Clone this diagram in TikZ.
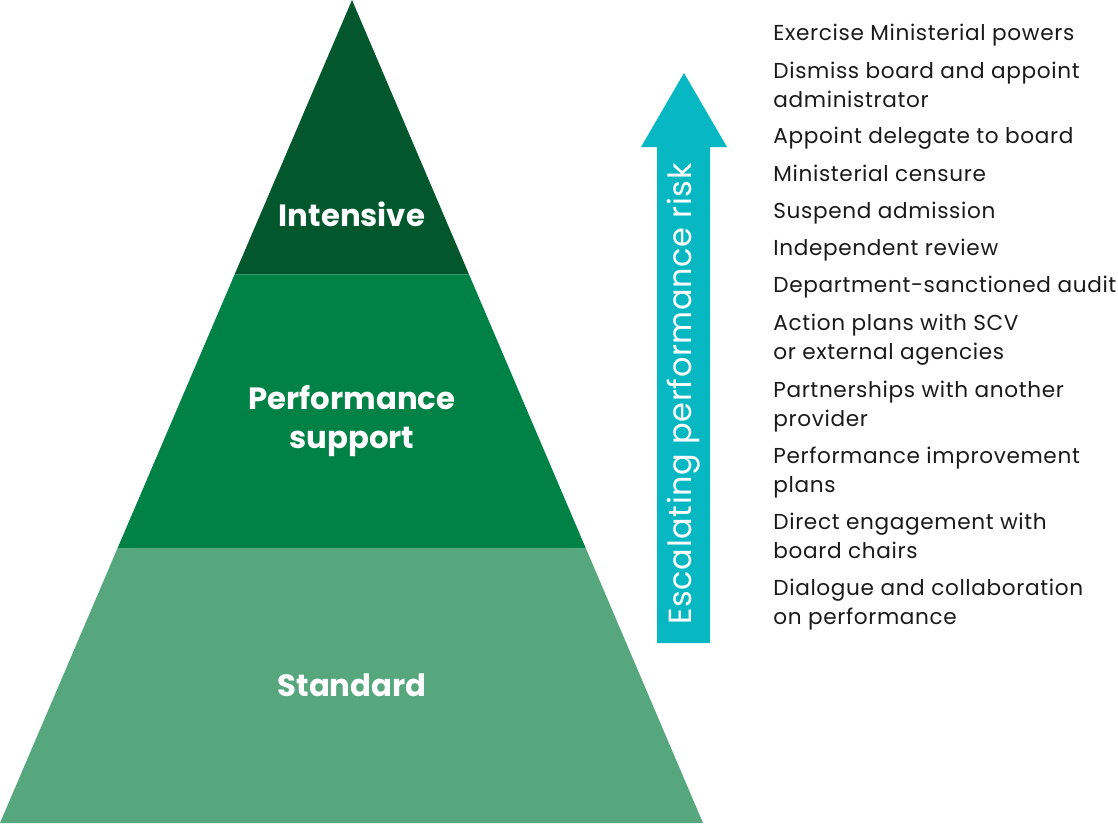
\documentclass[tikz,border=0pt]{standalone}
\usepackage{fontspec}
\setmainfont{Poppins}
\usepackage{xcolor}
\usetikzlibrary{calc}

\definecolor{intensivegreen}{RGB}{2,88,44}
\definecolor{supportgreen}{RGB}{0,130,70}
\definecolor{standardgreen}{RGB}{86,166,126}
\definecolor{riskteal}{RGB}{7,184,194}
\definecolor{actiongrey}{RGB}{26,26,26}

\begin{document}
\begin{tikzpicture}[x=0.02cm,y=-0.02cm,
	tier/.style={text=white,align=center,inner sep=0pt,font=\fontsize{17.5}{22}\selectfont\bfseries},
	action/.style={anchor=north west,inner sep=0pt,align=left,text=actiongrey,
		font=\fontsize{12.3}{16.4}\selectfont\addfontfeature{LetterSpace=3}}]
	\useasboundingbox (0,0) rectangle (1118,825);
	%
	% pyramid
	\coordinate (T) at (352,0);
	\coordinate (L) at (0,823);
	\coordinate (R) at (703,823);
	\coordinate (L1) at ($(T)!1/3!(L)$);
	\coordinate (R1) at ($(T)!1/3!(R)$);
	\coordinate (L2) at ($(T)!2/3!(L)$);
	\coordinate (R2) at ($(T)!2/3!(R)$);
	\fill[intensivegreen] (T) -- (L1) -- (R1) -- cycle;
	\fill[supportgreen] (L1) -- (L2) -- (R2) -- (R1) -- cycle;
	\fill[standardgreen] (L2) -- (L) -- (R) -- (R2) -- cycle;
	\node[tier] (I) at (352,214) {Intensive};
	\node[tier] (P) at (352,421) {Performance\\support};
	\node[tier] (S) at (352,685) {Standard};
	%
	% escalation arrow
	\fill[riskteal] (657,643) -- (657,147) -- (641,147) -- (684,73)
		-- (727,147) -- (710,147) -- (710,643) -- cycle;
	\node[rotate=90,text=white,inner sep=0pt,
		font=\fontsize{18.2}{20}\selectfont\addfontfeature{LetterSpace=2}] (E) at (684,394)
		{Escalating performance risk};
	%
	% actions, most severe first
	\node[action] (A1) at (773,24) {Exercise Ministerial powers};
	\node[action] (A2) at (773,62) {Dismiss board and appoint\\administrator};
	\node[action] (A3) at (773,127) {Appoint delegate to board};
	\node[action] (A4) at (773,165) {Ministerial censure};
	\node[action] (A5) at (773,202) {Suspend admission};
	\node[action] (A6) at (773,239) {Independent review};
	\node[action] (A7) at (773,276) {Department-sanctioned audit};
	\node[action] (A8) at (773,314) {Action plans with SCV\\or external agencies};
	\node[action] (A9) at (773,381) {Partnerships with another\\provider};
	\node[action] (A10) at (773,447) {Performance improvement\\plans};
	\node[action] (A11) at (773,513) {Direct engagement with\\board chairs};
	\node[action] (A12) at (773,579) {Dialogue and collaboration\\on performance};
\end{tikzpicture}
\end{document}
